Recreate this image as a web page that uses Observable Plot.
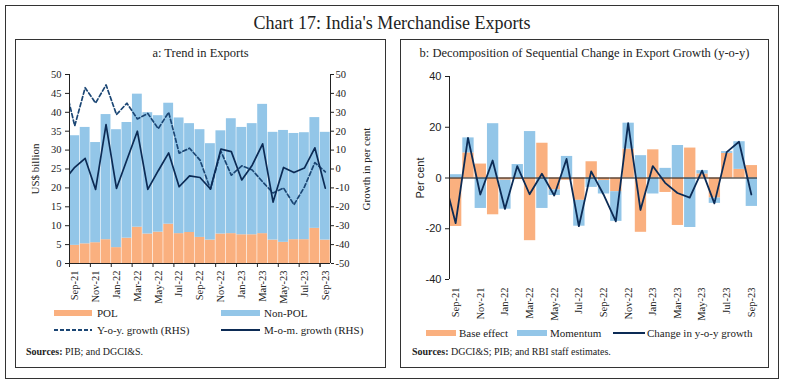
<!DOCTYPE html>
<html><head><meta charset="utf-8">
<script src="https://cdn.jsdelivr.net/npm/d3@7"></script>
<script src="https://cdn.jsdelivr.net/npm/@observablehq/plot@0.6"></script>
<style>
body{margin:0;background:#fff;width:786px;height:386px;position:relative;overflow:hidden;font-family:"Liberation Serif",serif;color:#222}
.abs{position:absolute;white-space:nowrap}
.frame{position:absolute;border:1px solid #333;box-sizing:border-box}
.rot{position:absolute;white-space:nowrap;transform:translate(-50%,-50%) rotate(-90deg)}
.lg{position:absolute;white-space:nowrap;font-size:11px;line-height:14px}
.sw{position:absolute}
.src{position:absolute;white-space:nowrap;font-size:10px;line-height:14px}
</style></head><body>
<div class="frame" style="left:5px;top:5px;width:774px;height:374px"></div>
<div class="abs" style="left:5px;width:774px;top:12px;text-align:center;font-size:18px;line-height:22px">Chart 17: India's Merchandise Exports</div>
<div class="frame" style="left:15px;top:39px;width:371px;height:329px"></div>
<div class="frame" style="left:400px;top:39px;width:369px;height:329px"></div>
<div class="abs" style="left:15px;width:371px;top:45px;text-align:center;font-size:12.5px;line-height:16px">a: Trend in Exports</div>
<div class="abs" style="left:400px;width:369px;top:45px;text-align:center;font-size:12.5px;line-height:16px">b: Decomposition of Sequential Change in Export Growth (y-o-y)</div>
<div id="plotA" class="abs" style="left:16px;top:60px"></div>
<div id="plotB" class="abs" style="left:400px;top:60px"></div>
<div class="rot" style="left:35px;top:169px;font-size:11px">US$ billion</div>
<div class="rot" style="left:366px;top:169px;font-size:11px">Growth in per cent</div>
<div class="rot" style="left:420px;top:178px;font-size:11px;font-family:'Liberation Sans',sans-serif">Per cent</div>

<div class="sw" style="left:54px;top:310px;width:38px;height:6px;background:#FAB07F"></div>
<div class="lg" style="left:97px;top:306px">POL</div>
<div class="sw" style="left:221px;top:310px;width:39px;height:6px;background:#93C6E8"></div>
<div class="lg" style="left:264px;top:306px">Non-POL</div>
<svg class="sw" style="left:54px;top:327px" width="38" height="6"><line x1="0" y1="3" x2="38" y2="3" stroke="#1B4674" stroke-width="1.8" stroke-dasharray="4,2"/></svg>
<div class="lg" style="left:97px;top:323px">Y-o-y. growth (RHS)</div>
<div class="sw" style="left:221px;top:329px;width:39px;height:2px;background:#0C2B55"></div>
<div class="lg" style="left:264px;top:323px">M-o-m. growth (RHS)</div>
<div class="src" style="left:26px;top:345px"><b>Sources:</b> PIB; and DGCI&amp;S.</div>

<div class="sw" style="left:426px;top:330px;width:30px;height:6px;background:#FAB07F"></div>
<div class="lg" style="left:459px;top:326px">Base effect</div>
<div class="sw" style="left:517px;top:330px;width:30px;height:6px;background:#93C6E8"></div>
<div class="lg" style="left:550px;top:326px">Momentum</div>
<div class="sw" style="left:613px;top:332px;width:32px;height:2px;background:#0C2B55"></div>
<div class="lg" style="left:647px;top:326px">Change in y-o-y growth</div>
<div class="src" style="left:412px;top:345px"><b>Sources:</b> DGCI&amp;S; PIB; and RBI staff estimates.</div>

<script>
const months = ["Sep-21","Oct-21","Nov-21","Dec-21","Jan-22","Feb-22","Mar-22","Apr-22","May-22","Jun-22","Jul-22","Aug-22","Sep-22","Oct-22","Nov-22","Dec-22","Jan-23","Feb-23","Mar-23","Apr-23","May-23","Jun-23","Jul-23","Aug-23","Sep-23"];
// line series start one month earlier (Aug-21), that segment is clipped at the axis
const lineMonths = ["Aug-21"].concat(months);

// Panel a (US$ billion)
const pol = [4.8,5.2,5.5,6.3,4.2,6.7,9.6,7.8,8.3,10.4,7.9,8.2,6.9,6.2,7.8,7.9,7.6,7.6,7.9,6.2,5.6,6.3,6.3,9.3,6.2];
const nonPol = [29.0,30.8,26.5,33.1,31.2,30.6,35.2,32.1,30.8,32.0,30.6,28.8,28.5,25.5,27.3,30.4,28.4,29.4,34.2,28.5,29.6,28.1,28.3,29.3,28.5];
// growth, per cent (RHS), Aug-21 .. Sep-23
const yoyGrowth = [46,22.8,43.0,34.9,44.5,28.8,34.8,26.5,29.4,21.3,30.0,8.4,11.0,4.7,-10.7,9.4,-3.3,1.7,-0.5,-6.8,-12.7,-10.0,-18.9,-9.5,3.4,-1.5];
const momGrowth = [-6,0.9,5.6,-10.8,23.5,-10.3,4.9,20.0,-10.8,-0.9,8.5,-9.4,-3.6,-4.5,-10.6,10.5,9.2,-5.8,2.0,13.3,-17.5,0.8,-1.9,0.5,11.2,-10.1];

// Panel b (per cent)
const baseEffect = [-19.1,9.9,5.5,-14.5,-0.9,-0.6,-24.7,13.7,-4.7,-0.9,-8.8,6.4,-1.0,-5.4,11.4,-21.4,11.1,-5.7,-18.7,11.8,1.6,-7.9,9.7,3.4,4.9];
const momentum = [1.3,5.9,-12.0,21.4,-11.4,5.3,18.3,-12.0,-2.2,8.5,-10.2,-3.7,-5.3,-11.7,10.2,8.8,-6.3,3.8,12.8,-19.5,1.3,-2.1,0.7,10.9,-11.2];
const changeYoy = [1.0,-17.8,15.8,-6.5,6.9,-12.2,4.7,-6.4,1.7,-6.9,7.5,-19.0,2.6,-6.5,-17.1,21.6,-12.6,4.7,-1.9,-5.9,-7.7,2.9,-10.0,10.2,14.3,-6.5];

const ORANGE = "#FAB07F", BLUE = "#93C6E8", NAVY = "#0C2B55", DASH = "#1B4674";
const SERIF = "'Liberation Serif', serif", SANS = "'Liberation Sans', sans-serif";

const barsA = [];
months.forEach((m, i) => barsA.push({i, series: "POL", value: pol[i]}));
months.forEach((m, i) => barsA.push({i, series: "Non-POL", value: nonPol[i]}));
const linesA = lineMonths.map((m, k) => ({pos: k - 0.5, yoy: yoyGrowth[k], mom: momGrowth[k]}));

const barsB = [];
months.forEach((m, i) => barsB.push({i, series: "Base effect", value: baseEffect[i]}));
months.forEach((m, i) => barsB.push({i, series: "Momentum", value: momentum[i]}));
const lineB = lineMonths.map((m, k) => ({pos: k - 0.5, chg: changeYoy[k]}));

const everyOther = d3.range(0, months.length, 2);
const monthLabel = d => months[Math.round(d - 0.5)];

const chartA = Plot.plot({
  width: 369, height: 245,
  marginLeft: 53, marginRight: 55, marginTop: 14, marginBottom: 42,
  x: {domain: [0, months.length], label: null},
  y: {domain: [0, 50], label: null},
  color: {domain: ["POL", "Non-POL"], range: [ORANGE, BLUE]},
  style: {fontFamily: SERIF, fontSize: "10.5px", color: "#222", background: "transparent"},
  marks: [
    Plot.rectY(barsA, {x: "i", interval: 1, y: "value", fill: "series", insetLeft: 0.3, insetRight: 0.3}),
    Plot.line(linesA, {x: "pos", y: d => (d.yoy + 50) / 2, stroke: DASH, strokeWidth: 1.7, strokeDasharray: "4,2.5", clip: true}),
    Plot.line(linesA, {x: "pos", y: d => (d.mom + 50) / 2, stroke: NAVY, strokeWidth: 1.7, clip: true}),
    Plot.ruleX([0, months.length], {stroke: "#222"}),
    Plot.ruleY([0], {stroke: "#222"}),
    Plot.axisY({ticks: d3.range(0, 51, 5), tickSize: 4, tickPadding: 4, label: null}),
    Plot.axisY({anchor: "right", ticks: d3.range(0, 51, 5), tickFormat: d => String(d * 2 - 50), tickSize: 3, tickPadding: 2, label: null}),
    Plot.axisX({ticks: everyOther.concat([24]), tickSize: 4, tickFormat: () => "", label: null}),
    Plot.axisX({ticks: everyOther.map(d => d + 0.5), tickSize: 0, tickPadding: 7, tickRotate: -90, tickFormat: monthLabel, label: null})
  ]
});
document.getElementById("plotA").appendChild(chartA);

const chartB = Plot.plot({
  width: 368, height: 262,
  marginLeft: 49, marginRight: 11, marginTop: 16, marginBottom: 43,
  x: {domain: [0, months.length], label: null},
  y: {domain: [-40, 40], label: null},
  color: {domain: ["Base effect", "Momentum"], range: [ORANGE, BLUE]},
  style: {fontFamily: SERIF, fontSize: "10.5px", color: "#222", background: "transparent"},
  marks: [
    Plot.rectY(barsB, {x: "i", interval: 1, y: "value", fill: "series"}),
    Plot.ruleY([0], {stroke: "#111", strokeWidth: 1.2}),
    Plot.line(lineB, {x: "pos", y: "chg", stroke: NAVY, strokeWidth: 1.8, clip: true}),
    Plot.ruleX([0], {stroke: "#222"}),
    Plot.axisY({ticks: [-40, -20, 0, 20, 40], tickSize: 4, tickPadding: 4, tickFormat: d => String(d), fontFamily: SANS, fontSize: 11, label: null}),
    Plot.axisX({ticks: everyOther.map(d => d + 0.5), tickSize: 0, tickPadding: 8, tickRotate: -90, tickFormat: monthLabel, label: null})
  ]
});
document.getElementById("plotB").appendChild(chartB);
</script>
</body></html>
